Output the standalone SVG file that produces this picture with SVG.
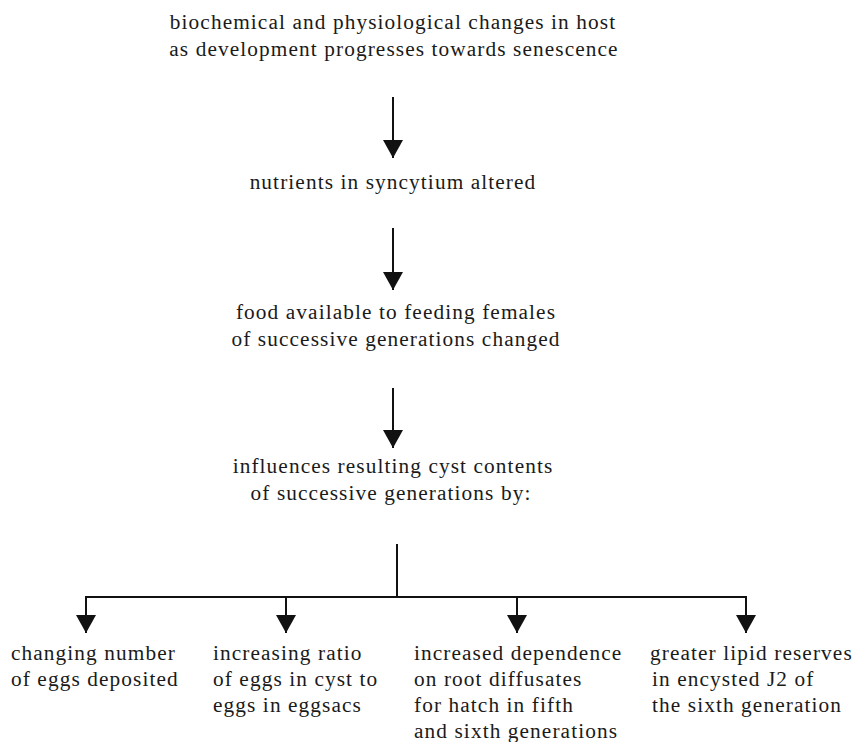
<svg xmlns="http://www.w3.org/2000/svg" width="853" height="742" viewBox="0 0 853 742">
<style>
  text { font-family: "Liberation Serif", "Times New Roman", serif; font-size: 21.3px; fill: #1a1a1a; letter-spacing: 1.1px; }
  .c { text-anchor: middle; }
  .edge { stroke: #111; stroke-width: 2; fill: none; }
</style>
<defs>
  <marker id="ah" viewBox="0 0 18 20" markerWidth="18" markerHeight="20" refX="18" refY="10" orient="auto" markerUnits="userSpaceOnUse">
    <path d="M0,0 L18,10 L0,20 Z" fill="#111"/>
  </marker>
</defs>
<rect width="853" height="742" fill="#fff"/>
<g id="n1">
  <text class="c" x="393" y="29">biochemical and physiological changes in host</text>
  <text class="c" x="394" y="56">as development progresses towards senescence</text>
</g>
<g id="n2">
  <text class="c" x="393" y="189">nutrients in syncytium altered</text>
</g>
<g id="n3">
  <text class="c" x="396" y="319">food available to feeding females</text>
  <text class="c" x="396" y="346">of successive generations changed</text>
</g>
<g id="n4">
  <text class="c" x="393" y="473">influences resulting cyst contents</text>
  <text class="c" x="391" y="500">of successive generations by:</text>
</g>
<g id="n5">
  <text x="11" y="660">changing number</text>
  <text x="11" y="686">of eggs deposited</text>
</g>
<g id="n6">
  <text x="213" y="660">increasing ratio</text>
  <text x="213" y="686">of eggs in cyst to</text>
  <text x="213" y="712">eggs in eggsacs</text>
</g>
<g id="n7">
  <text x="414" y="660">increased dependence</text>
  <text x="414" y="686">on root diffusates</text>
  <text x="414" y="712">for hatch in fifth</text>
  <text x="414" y="738">and sixth generations</text>
</g>
<g id="n8">
  <text x="650" y="660">greater lipid reserves</text>
  <text x="652" y="686">in encysted J2 of</text>
  <text x="652" y="712">the sixth generation</text>
</g>
<g id="connectors">
  <line class="edge" x1="393" y1="97" x2="393" y2="158" marker-end="url(#ah)"/>
  <line class="edge" x1="393" y1="228" x2="393" y2="290" marker-end="url(#ah)"/>
  <line class="edge" x1="393" y1="388" x2="393" y2="448" marker-end="url(#ah)"/>
  <line class="edge" x1="397" y1="544" x2="397" y2="597"/>
  <line class="edge" x1="85" y1="597" x2="747" y2="597"/>
  <line class="edge" x1="86" y1="597" x2="86" y2="633" marker-end="url(#ah)"/>
  <line class="edge" x1="286" y1="597" x2="286" y2="633" marker-end="url(#ah)"/>
  <line class="edge" x1="517" y1="597" x2="517" y2="633" marker-end="url(#ah)"/>
  <line class="edge" x1="746" y1="597" x2="746" y2="633" marker-end="url(#ah)"/>
</g>
</svg>
